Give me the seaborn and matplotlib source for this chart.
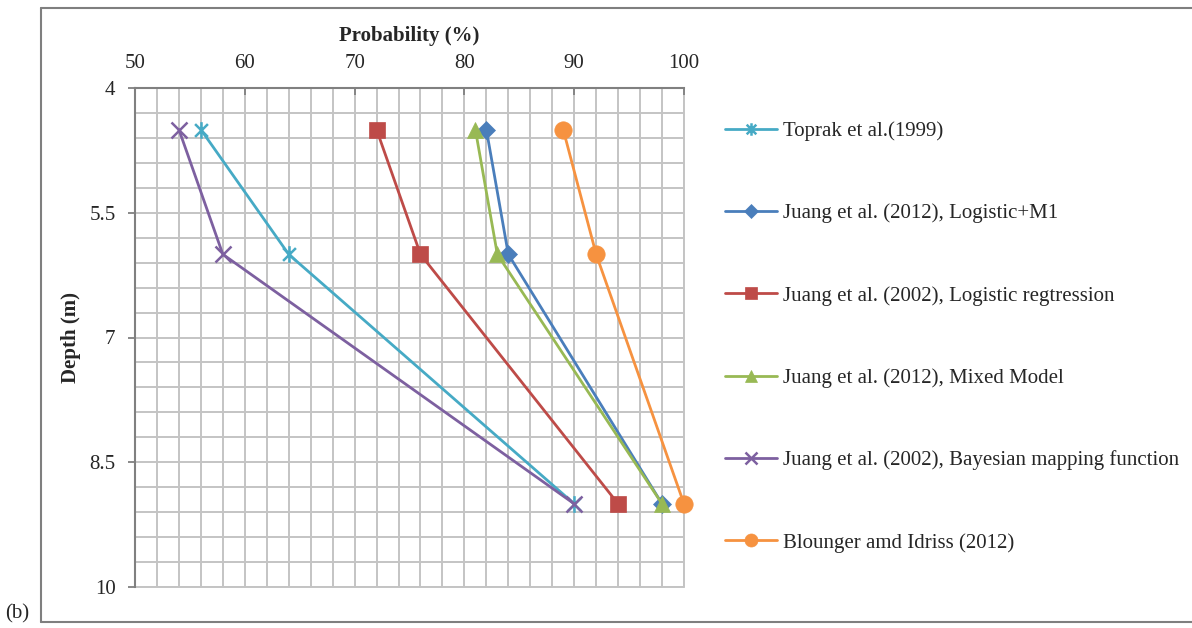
import matplotlib
matplotlib.use("Agg")
import matplotlib.pyplot as plt
from matplotlib.path import Path
from matplotlib.lines import Line2D
from matplotlib.ticker import MultipleLocator, FormatStrFormatter
import pandas as pd
import seaborn as sns

# Depths (m) at which each method was evaluated
depths = [4.5, 6.0, 9.0]

# Probability of liquefaction (%) by method
toprak = [56, 64, 90]
juang2012_m1 = [82, 84, 98]
juang2002_logistic = [72, 76, 94]
juang2012_mixed = [81, 83, 98]
juang2002_bayes = [54, 58, 90]
boulanger = [89, 92, 100]

labels = [
    "Toprak et al.(1999)",
    "Juang et al. (2012), Logistic+M1",
    "Juang et al. (2002), Logistic regtression",
    "Juang et al. (2012), Mixed Model",
    "Juang et al. (2002), Bayesian mapping function",
    "Blounger amd Idriss (2012)",
]
series = [toprak, juang2012_m1, juang2002_logistic, juang2012_mixed,
          juang2002_bayes, boulanger]

colors = ["#46AAC5", "#4A7EBB", "#BE4B48", "#98B954", "#7D60A0", "#F69240"]

# asterisk-style marker: an X crossed by a vertical stroke
star = Path([(-1, -1), (1, 1), (-1, 1), (1, -1), (0, -1.3), (0, 1.3)],
            [Path.MOVETO, Path.LINETO, Path.MOVETO, Path.LINETO,
             Path.MOVETO, Path.LINETO])
markers = [star, "D", "s", "^", "x", "o"]
msizes = [12, 9, 12, 12, 11, 12.5]

sns.set_theme(style="white")
plt.rcParams["font.family"] = ["Liberation Serif", "DejaVu Serif"]

fig = plt.figure(figsize=(11.92, 6.28), dpi=100)
ax = fig.add_axes([135 / 1192, 1 - 587 / 628, 549 / 1192, 499 / 628])

for lab, vals, col, mk, ms in zip(labels, series, colors, markers, msizes):
    df = pd.DataFrame({"Probability": vals, "Depth": depths})
    line_art = mk in ("x",) or isinstance(mk, Path)
    sns.lineplot(
        data=df, x="Probability", y="Depth", ax=ax, sort=False,
        color=col, linewidth=2.0, marker=mk, markersize=ms,
        markeredgecolor=col,
        markerfacecolor="none" if line_art else col,
        markeredgewidth=1.8 if line_art else 0.5,
        label=lab, zorder=3, clip_on=False,
    )

ax.set_xlim(50, 100)
ax.set_ylim(10, 4)
ax.xaxis.set_major_locator(MultipleLocator(10))
ax.xaxis.set_minor_locator(MultipleLocator(2))
# depth ticks every 1.5 m starting at 4 m, grid every 0.3 m
ax.yaxis.set_major_locator(MultipleLocator(1.5, offset=1.0))
ax.yaxis.set_minor_locator(MultipleLocator(0.3, offset=0.1))
ax.yaxis.set_major_formatter(FormatStrFormatter("%g"))

grid_kw = dict(color="#C4C4C4", linewidth=1.4)
ax.grid(True, which="both", zorder=0, **grid_kw)
ax.set_axisbelow(True)
# grid lines on the open right and bottom edges of the plot area
ax.axhline(10, clip_on=False, zorder=0.5, **grid_kw)
ax.axvline(100, clip_on=False, zorder=0.5, **grid_kw)

ax.xaxis.tick_top()
ax.xaxis.set_label_position("top")
ax.tick_params(axis="x", which="major", direction="in", length=5, width=1.3,
               color="#808080", pad=11, labelsize=15, top=True, bottom=False)
ax.tick_params(axis="x", which="minor", length=0)
ax.tick_params(axis="y", which="major", direction="out", length=5, width=1.3,
               color="#808080", pad=9, labelsize=15, left=True)
ax.tick_params(axis="y", which="minor", length=0)

for side in ("left", "top"):
    ax.spines[side].set_visible(True)
    ax.spines[side].set_color("#808080")
    ax.spines[side].set_linewidth(1.5)
    ax.spines[side].set_zorder(2)
for side in ("right", "bottom"):
    ax.spines[side].set_visible(False)

ax.set_xlabel("Probability (%)", fontsize=15, fontweight="bold", labelpad=9)
ax.set_ylabel("Depth (m)", fontsize=15, fontweight="bold", labelpad=6)

leg = ax.legend(loc="center left", bbox_to_anchor=(725 / 1192, 1 - 337 / 628),
                bbox_transform=fig.transFigure, frameon=False, fontsize=15,
                handlelength=2.5, handletextpad=0.3, labelspacing=3.0,
                borderpad=0, borderaxespad=0, markerscale=0.75)

# outer frame around the figure
frame_kw = dict(color="#7F7F7F", linewidth=1.5, transform=fig.transFigure)
x0, y0, y1 = 41 / 1192, 1 - 622 / 628, 1 - 8 / 628
fig.add_artist(Line2D([x0, x0], [y0, y1], **frame_kw))
fig.add_artist(Line2D([x0, 1.0], [y1, y1], **frame_kw))
fig.add_artist(Line2D([x0, 1.0], [y0, y0], **frame_kw))

fig.text(5 / 1192, 1 - 614 / 628, "(b)", fontsize=15, va="center", ha="left")

fig.savefig("out.png", dpi=100)
